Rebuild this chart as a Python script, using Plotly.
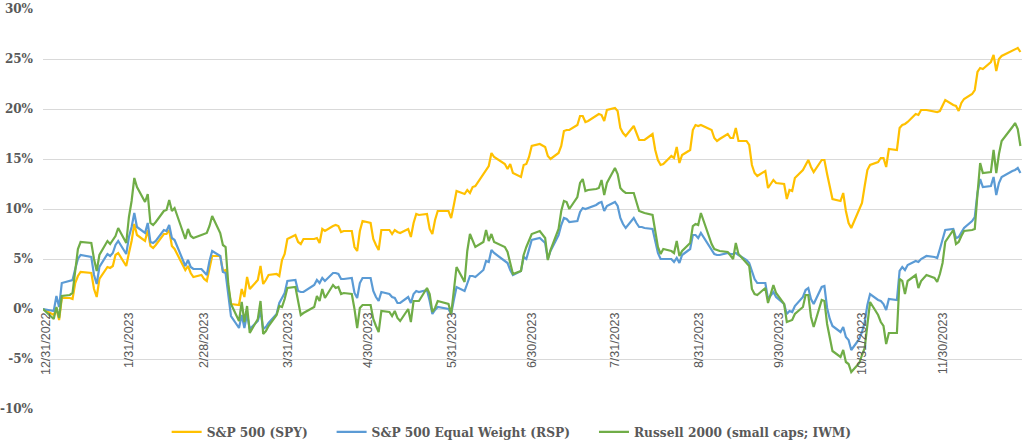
import plotly.graph_objects as go

dates = [
    "2022-12-31","2023-01-04","2023-01-05","2023-01-06","2023-01-07","2023-01-10","2023-01-11","2023-01-12","2023-01-13","2023-01-14",
    "2023-01-18","2023-01-19","2023-01-20","2023-01-21","2023-01-24","2023-01-25","2023-01-26","2023-01-27","2023-01-28","2023-01-31",
    "2023-02-01","2023-02-02","2023-02-03","2023-02-04","2023-02-07","2023-02-08","2023-02-09","2023-02-10","2023-02-11","2023-02-14",
    "2023-02-15","2023-02-16","2023-02-17","2023-02-18","2023-02-22","2023-02-23","2023-02-24","2023-02-25","2023-02-28","2023-03-01",
    "2023-03-02","2023-03-03","2023-03-04","2023-03-07","2023-03-08","2023-03-09","2023-03-10","2023-03-11","2023-03-14","2023-03-15",
    "2023-03-16","2023-03-17","2023-03-18","2023-03-21","2023-03-22","2023-03-23","2023-03-24","2023-03-25","2023-03-28","2023-03-29",
    "2023-03-30","2023-03-31","2023-04-01","2023-04-04","2023-04-05","2023-04-06","2023-04-07","2023-04-11","2023-04-12","2023-04-13",
    "2023-04-14","2023-04-15","2023-04-18","2023-04-19","2023-04-20","2023-04-21","2023-04-22","2023-04-25","2023-04-26","2023-04-27",
    "2023-04-28","2023-04-29","2023-05-02","2023-05-03","2023-05-04","2023-05-05","2023-05-06","2023-05-09","2023-05-10","2023-05-11",
    "2023-05-12","2023-05-13","2023-05-16","2023-05-17","2023-05-18","2023-05-19","2023-05-20","2023-05-23","2023-05-24","2023-05-25",
    "2023-05-26","2023-05-27","2023-05-31","2023-06-01","2023-06-02","2023-06-03","2023-06-06","2023-06-07","2023-06-08","2023-06-09",
    "2023-06-10","2023-06-13","2023-06-14","2023-06-15","2023-06-16","2023-06-17","2023-06-21","2023-06-22","2023-06-23","2023-06-24",
    "2023-06-27","2023-06-28","2023-06-29","2023-06-30","2023-07-01","2023-07-04","2023-07-06","2023-07-07","2023-07-08","2023-07-11",
    "2023-07-12","2023-07-13","2023-07-14","2023-07-15","2023-07-18","2023-07-19","2023-07-20","2023-07-21","2023-07-22","2023-07-25",
    "2023-07-26","2023-07-27","2023-07-28","2023-07-29","2023-08-01","2023-08-02","2023-08-03","2023-08-04","2023-08-05","2023-08-08",
    "2023-08-09","2023-08-10","2023-08-11","2023-08-12","2023-08-15","2023-08-16","2023-08-17","2023-08-18","2023-08-19","2023-08-22",
    "2023-08-23","2023-08-24","2023-08-25","2023-08-26","2023-08-29","2023-08-30","2023-08-31","2023-09-01","2023-09-02","2023-09-06",
    "2023-09-07","2023-09-08","2023-09-09","2023-09-12","2023-09-13","2023-09-14","2023-09-15","2023-09-16","2023-09-19","2023-09-20",
    "2023-09-21","2023-09-22","2023-09-23","2023-09-26","2023-09-27","2023-09-28","2023-09-29","2023-09-30","2023-10-03","2023-10-04",
    "2023-10-05","2023-10-06","2023-10-07","2023-10-10","2023-10-11","2023-10-12","2023-10-13","2023-10-14","2023-10-17","2023-10-18",
    "2023-10-19","2023-10-20","2023-10-21","2023-10-24","2023-10-25","2023-10-26","2023-10-27","2023-10-28","2023-10-31","2023-11-01",
    "2023-11-02","2023-11-03","2023-11-04","2023-11-07","2023-11-08","2023-11-09","2023-11-10","2023-11-11","2023-11-14","2023-11-15",
    "2023-11-16","2023-11-17","2023-11-18","2023-11-21","2023-11-22","2023-11-23","2023-11-25","2023-11-28","2023-11-29","2023-11-30",
    "2023-12-01","2023-12-02","2023-12-05","2023-12-06","2023-12-07","2023-12-08","2023-12-09","2023-12-12","2023-12-13","2023-12-14",
    "2023-12-15","2023-12-16","2023-12-19","2023-12-20","2023-12-21","2023-12-22","2023-12-23","2023-12-27","2023-12-28","2023-12-29",
    "2023-12-30",
]

spy = [
    0.0,-0.6,0.0,-1.1,1.1,1.1,1.0,2.6,3.3,3.7,
    3.6,2.0,1.2,3.0,4.2,4.1,4.3,5.4,5.6,4.3,
    5.6,6.8,8.5,7.4,6.8,7.9,6.3,6.1,6.4,7.5,
    7.5,7.9,6.3,6.0,3.9,4.3,3.6,3.2,3.4,3.0,
    2.8,4.0,5.3,5.3,3.8,3.9,2.2,0.5,0.4,2.0,
    1.2,3.2,2.0,2.9,4.3,2.5,2.9,3.4,3.5,3.3,
    4.9,5.5,7.0,7.4,6.7,6.5,7.0,7.0,7.1,6.6,
    8.0,7.8,8.3,8.4,8.3,7.7,7.8,7.8,6.2,5.8,
    7.8,8.8,8.6,7.0,6.4,5.9,7.9,7.9,7.5,7.9,
    7.7,7.6,8.0,7.2,8.6,9.5,9.4,9.5,8.0,7.5,
    8.9,9.8,9.8,9.1,10.4,11.8,11.5,11.9,11.6,12.2,
    12.3,13.5,14.0,14.3,15.6,15.2,14.5,14.0,14.5,13.6,
    13.2,14.4,14.5,15.2,16.3,16.5,16.2,15.3,15.0,15.6,
    16.3,17.8,17.9,17.9,18.4,19.3,19.3,18.7,18.8,19.3,
    19.5,19.4,18.8,19.9,20.1,19.8,18.1,17.6,17.3,18.3,
    17.6,16.9,16.9,16.9,17.5,15.9,14.9,14.4,14.5,15.3,
    15.1,16.2,14.6,15.4,15.9,17.9,18.4,18.3,18.4,17.9,
    17.1,16.8,17.0,17.5,17.1,17.1,18.1,16.8,16.8,16.4,
    14.4,13.6,13.3,13.8,12.1,12.5,12.9,12.6,12.5,11.0,
    11.9,11.8,13.1,13.9,14.4,14.9,14.2,13.7,14.9,14.9,
    13.5,12.3,11.0,10.8,11.6,9.8,8.6,8.1,9.9,10.6,
    12.3,13.9,14.4,14.7,15.1,15.1,14.2,16.0,15.9,18.1,
    18.4,18.5,18.7,19.5,19.4,19.9,19.9,19.7,19.7,19.8,
    20.3,20.9,20.4,20.3,19.8,20.6,21.0,21.5,21.9,23.7,
    24.1,24.0,24.7,25.4,23.8,25.0,25.3,25.8,26.0,26.1,
    25.7,
]

rsp = [
    0.0,-0.2,1.3,0.2,2.6,2.8,2.9,4.0,5.0,5.4,
    5.2,3.4,2.5,4.2,5.5,5.3,5.6,6.4,6.8,5.5,
    7.2,8.2,9.6,8.2,7.6,8.6,6.7,6.6,6.8,7.9,
    7.8,8.4,7.1,6.9,4.3,4.9,4.2,4.0,4.0,3.7,
    3.4,4.8,5.8,5.3,3.7,3.6,1.2,-0.7,-1.9,-0.6,
    -1.9,-0.5,-2.0,-1.2,-0.2,-2.0,-1.8,-1.4,-0.5,0.6,
    1.1,1.6,2.8,2.9,1.8,1.7,1.7,2.4,2.9,2.6,
    3.1,2.8,3.6,3.6,3.5,3.0,3.0,3.1,1.6,1.1,
    2.6,3.1,3.1,1.8,1.2,0.8,1.7,1.5,1.2,1.1,
    0.6,0.6,1.2,0.6,1.5,1.8,1.7,1.9,0.8,-0.5,
    -0.1,0.2,0.0,-0.5,0.9,2.2,1.8,2.6,3.3,3.3,
    3.2,3.9,4.8,4.7,5.9,5.6,4.8,4.6,3.9,3.4,
    3.8,5.2,5.0,6.0,6.9,7.1,6.6,5.0,5.8,7.4,
    8.4,9.1,9.0,8.7,8.8,9.7,10.1,10.0,10.1,10.4,
    10.6,10.7,9.8,10.3,10.7,10.3,9.1,8.5,8.1,9.1,
    8.6,8.2,8.2,8.1,8.0,6.6,5.6,5.0,5.0,5.0,
    4.7,5.1,4.6,5.4,6.0,7.4,7.4,7.1,7.6,5.9,
    5.5,5.4,5.4,5.6,5.5,5.5,5.6,5.4,4.9,4.6,
    3.8,3.0,2.6,2.6,1.0,1.4,1.7,1.2,0.5,-0.5,
    -0.2,-0.3,0.3,1.2,1.9,2.1,1.0,0.5,2.2,2.3,
    0.1,-1.0,-1.7,-2.3,-1.8,-2.8,-3.1,-4.1,-3.0,-2.3,
    -1.3,0.4,1.5,0.9,0.8,0.5,-0.1,1.0,0.9,3.8,
    4.2,3.9,4.4,4.8,4.7,5.0,5.3,5.2,5.1,6.0,
    6.9,7.9,8.0,7.1,7.2,7.7,8.1,8.8,9.2,11.6,
    13.0,12.2,12.3,13.2,11.4,12.6,13.2,13.8,13.9,14.1,
    13.6,
]

iwm = [
    0.0,-1.0,0.2,-0.9,1.3,1.4,1.6,4.0,6.0,6.7,
    6.6,5.0,3.8,5.4,6.8,6.5,6.9,7.3,8.1,6.6,
    9.2,10.8,13.1,12.2,10.7,11.5,8.6,8.4,8.7,9.8,
    9.9,10.9,9.8,10.1,7.0,8.0,7.3,7.1,7.4,7.5,
    7.6,8.3,9.3,7.6,6.4,6.2,2.5,0.5,-1.2,0.7,
    -1.3,0.3,-2.4,-1.0,0.8,-2.5,-2.2,-1.7,-0.6,0.3,
    0.2,1.0,2.1,2.2,0.6,-0.6,-0.4,0.2,1.3,0.8,
    2.0,1.1,2.4,2.1,2.2,1.5,1.6,1.5,0.0,-1.9,
    0.1,0.4,0.4,-1.0,-1.7,-2.3,-0.2,-0.3,-0.7,-0.2,
    -0.9,-1.2,0.0,-1.3,0.8,0.8,0.8,2.1,1.5,-0.3,
    0.1,0.8,0.5,-0.5,1.8,4.2,2.7,5.8,7.5,6.9,
    6.2,6.7,7.9,6.8,7.5,6.7,6.2,5.7,4.5,3.5,
    3.8,5.4,6.2,6.8,7.5,7.8,7.1,4.9,5.9,8.0,
    9.8,10.8,10.7,10.0,11.2,12.6,13.0,11.8,11.9,12.0,
    12.1,12.9,11.4,12.6,14.1,13.5,12.1,11.8,11.6,11.6,
    10.7,9.8,9.7,9.6,9.4,7.6,6.2,5.5,6.0,5.8,
    5.6,6.8,5.3,5.8,6.6,8.3,8.5,8.4,9.6,6.5,
    6.0,5.9,5.8,5.7,5.3,5.0,6.6,5.5,4.6,4.3,
    2.0,1.5,1.4,2.1,0.6,1.6,2.4,1.6,0.5,-1.3,
    -1.2,-1.1,-0.5,0.2,1.4,1.4,-0.8,-1.8,0.9,0.8,
    -1.5,-3.0,-4.2,-4.8,-4.1,-5.3,-5.5,-6.3,-5.4,-4.6,
    -3.9,-1.6,0.7,-0.6,-1.3,-1.7,-3.5,-2.4,-2.4,3.0,
    2.8,1.5,2.8,3.4,2.1,2.8,3.4,3.1,2.7,3.5,
    4.6,6.7,7.9,6.5,6.7,7.3,7.8,7.9,8.0,11.5,
    14.6,13.6,13.7,15.9,13.6,15.5,16.8,18.2,18.6,18.0,
    16.3,
]

series_names = ["S&P 500 (SPY)", "S&P 500 Equal Weight (RSP)", "Russell 2000 (small caps; IWM)"]
series_colors = ["#FFC000", "#5B9BD5", "#70AD47"]

x_tickvals = ["2022-12-31","2023-01-31","2023-02-28","2023-03-31","2023-04-30","2023-05-31",
              "2023-06-30","2023-07-31","2023-08-31","2023-09-30","2023-10-31","2023-11-30"]
x_ticktext = ["12/31/2022","1/31/2023","2/28/2023","3/31/2023","4/30/2023","5/31/2023",
              "6/30/2023","7/31/2023","8/31/2023","9/30/2023","10/31/2023","11/30/2023"]
y_tickvals = [-10, -5, 0, 5, 10, 15, 20, 25, 30]
y_ticktext = ["-10%", "-5%", "0%", "5%", "10%", "15%", "20%", "25%", "30%"]

grey = "#595959"
legend_ids = ["legend", "legend2", "legend3"]
legend_x = [0.1263, 0.2948, 0.5628]

fig = go.Figure()
for name, vals, col, lid in zip(series_names, [spy, rsp, iwm], series_colors, legend_ids):
    fig.add_trace(go.Scatter(x=dates, y=vals, mode="lines", name=name, legend=lid,
                             line=dict(color=col, width=2.2)))

legend_common = dict(orientation="h", xanchor="left", y=-0.057, yanchor="middle",
                     font=dict(family="DejaVu Serif", size=12.2, color=grey, weight="bold"),
                     bgcolor="rgba(0,0,0,0)", borderwidth=0, itemwidth=30)

fig.update_layout(
    width=1026, height=442,
    margin=dict(l=43, r=4, t=9, b=33, autoexpand=False),
    paper_bgcolor="white", plot_bgcolor="white",
    showlegend=True,
    legend=dict(x=legend_x[0], **legend_common),
    legend2=dict(x=legend_x[1], **legend_common),
    legend3=dict(x=legend_x[2], **legend_common),
    xaxis=dict(type="date", range=["2022-12-31", "2023-12-30 14:00"],
               tickmode="array", tickvals=x_tickvals, ticktext=x_ticktext,
               tickangle=-90, showgrid=False, zeroline=False, showline=False,
               anchor="free", position=0.25, ticks="", automargin=False,
               ticklabelshift=3,
               tickfont=dict(family="Liberation Sans", size=12.5, color=grey)),
    yaxis=dict(range=[-10, 30], tickmode="array", tickvals=y_tickvals, ticktext=y_ticktext,
               showgrid=True, gridcolor="#D9D9D9", gridwidth=1, zeroline=False,
               showline=False, ticks="", ticklabelstandoff=9, automargin=False,
               tickfont=dict(family="DejaVu Serif", size=12, color=grey, weight="bold")),
)

fig.write_html("out.html", config={"displayModeBar": False},
               post_script="document.body.style.margin='0';document.body.style.overflow='hidden';")
